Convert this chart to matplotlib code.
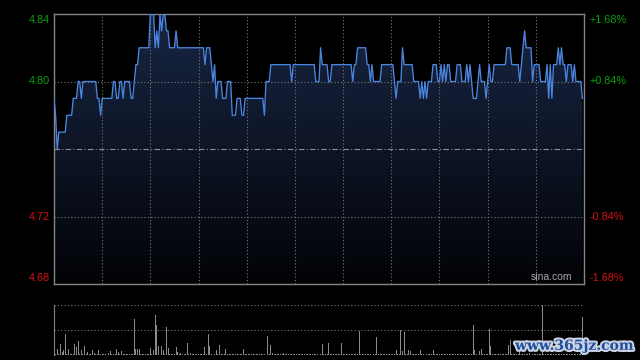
import numpy as np
import matplotlib
matplotlib.use("Agg")
import matplotlib.pyplot as plt
import matplotlib.patheffects as pe

plt.rcParams['font.family'] = ['Liberation Sans', 'DejaVu Sans']

# Intraday minute prices (run-length: price level, number of minutes)
price_levels = [4.79, 4.78, 4.76, 4.77, 4.78, 4.79, 4.80, 4.79, 4.80, 4.79, 4.78, 4.79, 4.80, 4.79, 4.80,
                4.79, 4.80, 4.79, 4.80, 4.81, 4.82, 4.84, 4.82, 4.83, 4.82, 4.84, 4.83, 4.84, 4.83, 4.82,
                4.83, 4.82, 4.81, 4.82, 4.81, 4.80, 4.81, 4.79, 4.80, 4.79, 4.80, 4.78, 4.79, 4.78, 4.79,
                4.78, 4.80, 4.81, 4.80, 4.81, 4.80, 4.82, 4.81, 4.80, 4.81, 4.80, 4.81, 4.82, 4.81, 4.80,
                4.81, 4.80, 4.81, 4.80, 4.79, 4.80, 4.82, 4.81, 4.80, 4.79, 4.80, 4.79, 4.80, 4.79, 4.80,
                4.81, 4.80, 4.81, 4.80, 4.81, 4.80, 4.81, 4.80, 4.81, 4.80, 4.81, 4.80, 4.81, 4.80, 4.79,
                4.80, 4.81, 4.80, 4.79, 4.80, 4.81, 4.80, 4.81, 4.82, 4.81, 4.80, 4.81, 4.82, 4.83, 4.82,
                4.80, 4.81, 4.80, 4.81, 4.79, 4.81, 4.79, 4.81, 4.82, 4.81, 4.82, 4.81, 4.80, 4.81, 4.80,
                4.81, 4.80, 4.79]
price_runs = [1, 1, 1, 5, 4, 3, 2, 1, 9, 2, 1, 7, 2, 2, 2,
              1, 4, 2, 1, 2, 7, 3, 1, 1, 1, 1, 1, 2, 2, 4,
              1, 17, 1, 3, 1, 1, 1, 1, 3, 3, 3, 3, 3, 2, 12,
              1, 3, 13, 1, 14, 3, 1, 4, 2, 13, 1, 2, 6, 2, 1,
              1, 5, 8, 1, 1, 3, 1, 6, 4, 1, 1, 1, 1, 1, 3,
              3, 2, 1, 1, 1, 1, 2, 4, 3, 3, 1, 1, 1, 1, 3,
              1, 1, 3, 1, 1, 1, 2, 8, 3, 5, 1, 1, 1, 1, 4,
              1, 4, 4, 1, 1, 1, 1, 3, 1, 1, 1, 2, 1, 3, 1,
              1, 4, 1]

prev_close = 4.76
y_ticks = [4.84, 4.80, 4.72, 4.68]
pct_labels = ['+1.68%', '+0.84%', '-0.84%', '-1.68%']

# Volume bars (minute index, height relative to panel top)
vol_minutes = [0, 2, 4, 5, 6, 7, 9, 13, 14, 15, 17, 19, 21, 24, 25, 28, 30, 34, 35, 39, 40, 42, 44,
               50, 51, 52, 53, 60, 62, 63, 64, 65, 66, 67, 68, 70, 71, 76, 77, 79, 83, 85,
               94, 96, 97, 101, 103, 107, 118, 132, 133, 135, 136, 143,
               167, 171, 179, 190, 201, 206, 213, 216, 217, 218, 221, 222, 228, 236,
               261, 262, 264, 265, 266, 271, 272, 283, 284, 290, 296, 304, 329]
vol_values = [0.44, 0.12, 0.21, 0.06, 0.09, 0.42, 0.12, 0.22, 0.15, 0.27, 0.09, 0.17, 0.05, 0.10, 0.03,
              0.09, 0.02, 0.03, 0.07, 0.11, 0.05, 0.07, 0.02,
              0.71, 0.12, 0.11, 0.11, 0.13, 0.09, 0.79, 0.59, 0.17, 0.17, 0.17, 0.10, 0.56, 0.14,
              0.15, 0.05, 0.03, 0.24, 0.03,
              0.15, 0.41, 0.17, 0.09, 0.19, 0.11, 0.11, 0.34, 0.37, 0.19, 0.03, 0.03,
              0.21, 0.23, 0.23, 0.48, 0.35, 0.02, 0.09, 0.49, 0.07, 0.45, 0.09, 0.07, 0.09, 0.09,
              0.59, 0.10, 0.05, 0.07, 0.12, 0.52, 0.17, 0.19, 0.30, 0.06, 0.04, 1.00, 0.76]
vol_base = 0.015  # tiny trades in the other minutes

price = np.repeat(price_levels, price_runs)
x = np.arange(len(price))
volume = np.full(len(price), vol_base)
volume[vol_minutes] = vol_values

fig = plt.figure(figsize=(6.4, 3.6), dpi=100, facecolor='black')
ax = fig.add_axes([54 / 640, 76 / 360, 530 / 640, 270 / 360], facecolor='black')
axv = fig.add_axes([54 / 640, 5.5 / 360, 530 / 640, 49.5 / 360], facecolor='black')

# gradient fill under the price line
poly = ax.fill_between(x, price, 4.68, facecolor='none', edgecolor='none')
t = np.linspace(1, 0, 256)[:, None, None]
top_c = np.array([24, 38, 68]) / 255
bot_c = np.array([2, 3, 6]) / 255
grad = top_c * t + bot_c * (1 - t)
im = ax.imshow(grad, extent=[0, 330, 4.68, 4.84], aspect='auto', origin='upper', zorder=1)
im.set_clip_path(poly.get_paths()[0], transform=ax.transData)

# grid (dotted)
dot = (0, (1, 2))
for k in range(1, 11):
    ax.axvline(30 * k, color='#7a7a7a', ls=dot, lw=0.8, zorder=2)
for yv in [4.80, 4.72]:
    ax.axhline(yv, color='#7a7a7a', ls=dot, lw=0.8, zorder=2)
ax.axhline(prev_close, color='#8391a3', ls=(0, (5, 2, 1, 2)), lw=0.8, zorder=2)

ax.plot(x, price, color='#4a86e0', lw=0.95, zorder=3)

ax.set_xlim(0, 330)
ax.set_ylim(4.68, 4.84)
ax.set_xticks([])
ax.set_yticks([])
for s in ax.spines.values():
    s.set_color('#858585')
    s.set_linewidth(1)

# price and percent labels
offsets = [-4, 0, 0, 4]
for yv, pl, off in zip(y_ticks, pct_labels, offsets):
    col = '#0aa00a' if yv > prev_close else '#d81010'
    ax.annotate(f'{yv:.2f}', xy=(0, yv), xytext=(-3, off), textcoords='offset points',
                ha='right', va='center', color=col, fontsize=7.8, annotation_clip=False)
    ax.annotate(pl, xy=(330, yv), xytext=(4, off), textcoords='offset points',
                ha='left', va='center', color=col, fontsize=7.8, annotation_clip=False)

ax.text(0.978, 0.006, 'sina.com', transform=ax.transAxes, ha='right', va='bottom',
        color='#a8a8a8', fontsize=7.5, zorder=4)

# volume panel
axv.bar(x, volume, width=0.6, color='#8a8a8a', zorder=2)
axv.axhline(1.0, color='#7a7a7a', ls=dot, lw=0.8)
axv.axhline(0.5, color='#7a7a7a', ls=dot, lw=0.8)
axv.set_xlim(0, 330)
axv.set_ylim(0, 1.0)
axv.set_xticks([])
axv.set_yticks([])
for name, s in axv.spines.items():
    s.set_visible(name == 'left')
axv.spines['left'].set_color('#858585')

# watermark
fig.text(0.99, 0.02, 'www.365jz.com', ha='right', va='bottom', color='#1f4e9c',
         fontsize=10, fontweight='bold', family='DejaVu Serif',
         path_effects=[pe.withStroke(linewidth=3, foreground='#c9d3e3')])

fig.savefig('out.png', dpi=100, facecolor='black')
